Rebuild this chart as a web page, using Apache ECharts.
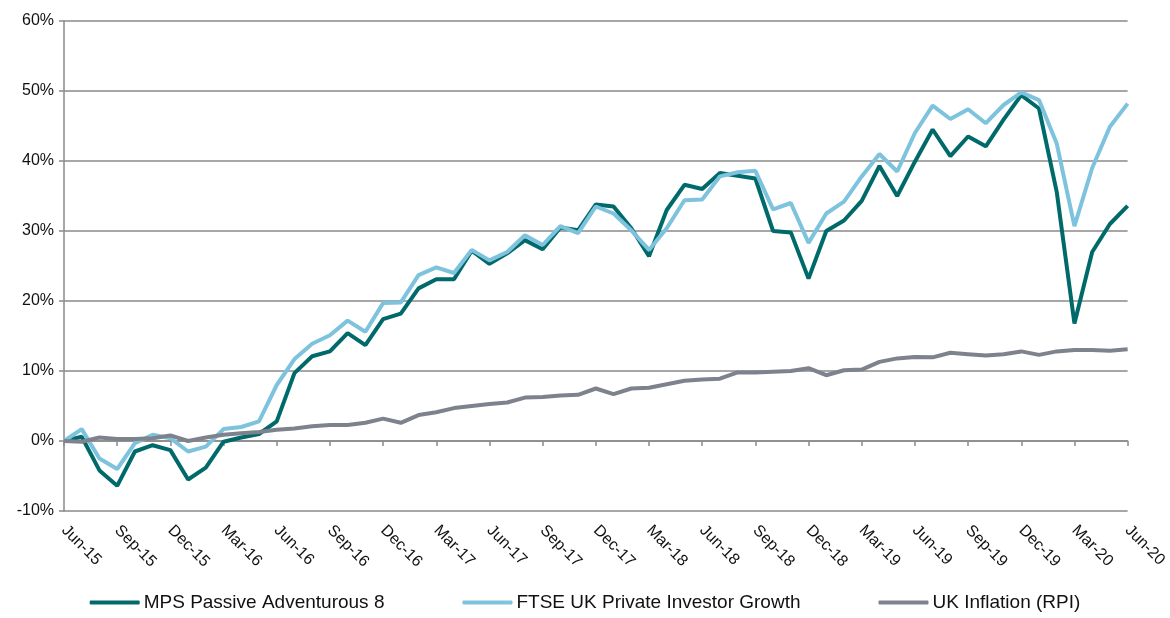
<!DOCTYPE html>
<html><head><meta charset="utf-8">
<script src="https://cdn.jsdelivr.net/npm/echarts@6/dist/echarts.min.js"></script>
<style>html,body{margin:0;padding:0;background:#fff}#c{width:1170px;height:618px}</style>
</head><body><div id="c"></div>
<script>
const months = ["Jun-15","Jul-15","Aug-15","Sep-15","Oct-15","Nov-15","Dec-15","Jan-16","Feb-16","Mar-16","Apr-16","May-16",
"Jun-16","Jul-16","Aug-16","Sep-16","Oct-16","Nov-16","Dec-16","Jan-17","Feb-17","Mar-17","Apr-17","May-17",
"Jun-17","Jul-17","Aug-17","Sep-17","Oct-17","Nov-17","Dec-17","Jan-18","Feb-18","Mar-18","Apr-18","May-18",
"Jun-18","Jul-18","Aug-18","Sep-18","Oct-18","Nov-18","Dec-18","Jan-19","Feb-19","Mar-19","Apr-19","May-19",
"Jun-19","Jul-19","Aug-19","Sep-19","Oct-19","Nov-19","Dec-19","Jan-20","Feb-20","Mar-20","Apr-20","May-20","Jun-20"];
const mps = [0,0.6,-4.2,-6.4,-1.5,-0.6,-1.3,-5.5,-3.8,-0.1,0.5,1.0,
2.8,9.7,12.1,12.8,15.4,13.7,17.4,18.2,21.8,23.1,23.1,27.2,
25.3,26.8,28.7,27.4,30.5,30.1,33.8,33.5,30.4,26.4,33.0,36.6,
36.0,38.3,37.9,37.5,30.0,29.8,23.2,30.0,31.5,34.3,39.3,35.0,
39.9,44.5,40.7,43.5,42.1,45.9,49.4,47.5,35.6,16.8,27.0,31.0,33.6];
const ftse = [0,1.7,-2.5,-4.0,-0.3,0.9,0.4,-1.5,-0.8,1.7,2.0,2.8,
8.0,11.7,13.9,15.1,17.2,15.6,19.7,19.8,23.7,24.8,24.0,27.3,
25.8,27.0,29.4,28.0,30.7,29.7,33.5,32.5,30.1,27.3,30.4,34.4,
34.5,37.8,38.4,38.6,33.1,34.0,28.3,32.5,34.2,37.8,41.0,38.5,
44.0,47.9,46.0,47.4,45.4,48.0,49.8,48.7,42.5,30.7,39.0,44.9,48.2];
const rpi = [0,-0.1,0.5,0.3,0.3,0.4,0.8,0.0,0.5,0.9,1.1,1.3,
1.6,1.8,2.1,2.3,2.3,2.6,3.2,2.6,3.7,4.1,4.7,5.0,
5.3,5.5,6.2,6.3,6.5,6.6,7.5,6.7,7.5,7.6,8.1,8.6,
8.8,8.9,9.8,9.8,9.9,10.0,10.4,9.4,10.1,10.2,11.3,11.8,
12.0,11.95,12.6,12.4,12.2,12.4,12.8,12.3,12.8,13.0,13.0,12.9,13.1];
const seriesNames = ["MPS Passive Adventurous 8","FTSE UK Private Investor Growth","UK Inflation (RPI)"];
const colors = ["#006a6b","#7ec3de","#7d828d"];
const axisGray = "#8a8a8a";
const font = "Liberation Sans, Arial, sans-serif";

const chart = echarts.init(document.getElementById('c'));
chart.setOption({
  animation:false,
  color: colors,
  grid:{left:64,right:40,top:21,bottom:107,containLabel:false},
  xAxis:[
    {type:'category',data:months,boundaryGap:false,
     axisLine:{onZero:true,lineStyle:{color:axisGray,width:1.5}},
     axisTick:{show:true,interval:2,length:5,lineStyle:{color:axisGray,width:1.5}},
     axisLabel:{show:false},splitLine:{show:false}},
    {type:'category',data:months,boundaryGap:false,position:'bottom',
     axisLine:{show:false,onZero:false},axisTick:{show:false},
     axisLabel:{show:true,interval:2,rotate:-45,margin:17,fontSize:16,color:'#111',fontFamily:font},
     splitLine:{show:false}}
  ],
  yAxis:{type:'value',min:-10,max:60,interval:10,
    axisLine:{show:true,lineStyle:{color:axisGray,width:1.5}},
    axisTick:{show:true,length:5,lineStyle:{color:axisGray,width:1.5}},
    axisLabel:{formatter:'{value}%',fontSize:16,color:'#111',fontFamily:font,margin:10},
    splitLine:{show:true,lineStyle:{color:axisGray,width:1.5}}},
  legend:{bottom:1,left:'center',icon:'roundRect',itemWidth:50,itemHeight:4,itemGap:78,
    textStyle:{fontSize:19,color:'#111',fontFamily:font,padding:[0,0,0,-1]},data:seriesNames},
  series:[
    {name:seriesNames[0],type:'line',data:mps,symbol:'none',lineStyle:{width:4,color:colors[0]},xAxisIndex:0},
    {name:seriesNames[1],type:'line',data:ftse,symbol:'none',lineStyle:{width:4,color:colors[1]},xAxisIndex:0},
    {name:seriesNames[2],type:'line',data:rpi,symbol:'none',lineStyle:{width:4,color:colors[2]},xAxisIndex:0}
  ]
});
</script></body></html>
